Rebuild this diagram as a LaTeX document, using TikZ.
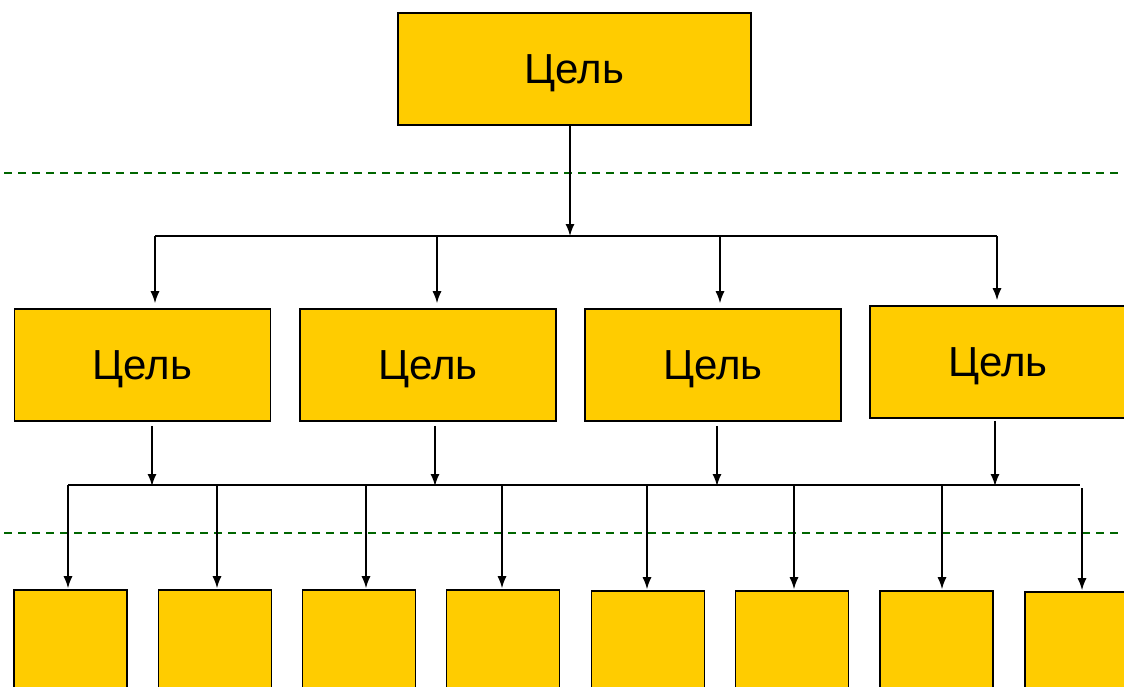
\documentclass[tikz,border=0pt]{standalone}
\usepackage{fontspec}
\setmainfont{Liberation Sans}
\usetikzlibrary{positioning, arrows.meta}
\definecolor{goalyellow}{RGB}{255,204,0}
\definecolor{levelgreen}{RGB}{0,102,0}

\begin{document}
\begin{tikzpicture}[x=1pt,y=-1pt,
    goal/.style={draw,line width=1.6pt,fill=goalyellow,inner sep=0pt,text depth=0pt,font=\fontsize{42}{50}\selectfont},
    bigbox/.style={goal,minimum width=256pt,minimum height=112pt},
    smallbox/.style={goal,minimum width=113pt,minimum height=112pt},
    link/.style={line width=1.4pt,-{Latex[length=12pt,width=9pt]}},
    bus/.style={line width=1.4pt},
    level/.style={levelgreen,line width=1.8pt,dash pattern=on 8pt off 6pt}]
\clip (0,0) rectangle (1124,686);
\fill[white] (0,0) rectangle (1124,686);

% level borders
\draw[level] (4,173) -- (1124,173);
\draw[level] (4,533) -- (1124,533);

% top goal
\node[goal,minimum width=353pt,minimum height=112pt] (top) at (574.5,69) {Цель};

% second level
\node[bigbox] (m1) at (142.5,365) {Цель};
\node[bigbox] (m2) at (428,365) {Цель};
\node[bigbox] (m3) at (713,365) {Цель};
\node[bigbox] (m4) at (998,362) {Цель};

% third level
\node[smallbox] (b1) at (70.5,646) {};
\node[smallbox] (b2) at (215,646) {};
\node[smallbox] (b3) at (359,646) {};
\node[smallbox] (b4) at (503,646) {};
\node[smallbox] (b5) at (648,647) {};
\node[smallbox] (b6) at (792,647) {};
\node[smallbox] (b7) at (936.5,647) {};
\node[smallbox] (b8) at (1081.5,648) {};

% upper bus
\coordinate (hub) at (570,236);
\coordinate (u1) at (155,236);
\coordinate (u2) at (437,236);
\coordinate (u3) at (720,236);
\coordinate (u4) at (997,236);
\draw[link] (hub |- top.south) -- (hub);
\draw[bus] (u1) -- (u4);
\draw[link,shorten >=5pt] (u1) -- (u1 |- m1.north);
\draw[link,shorten >=5pt] (u2) -- (u2 |- m2.north);
\draw[link,shorten >=5pt] (u3) -- (u3 |- m3.north);
\draw[link,shorten >=5pt] (u4) -- (u4 |- m4.north);

% lower bus
\coordinate (l0) at (68,485);
\coordinate (l9) at (1080,485);
\coordinate (h1) at (152,486);
\coordinate (h2) at (435,486);
\coordinate (h3) at (717,486);
\coordinate (h4) at (995,486);
\draw[bus] (l0) -- (l9);
\draw[link] (h1 |- m1.south) ++(0,4) -- (h1);
\draw[link] (h2 |- m2.south) ++(0,4) -- (h2);
\draw[link] (h3 |- m3.south) ++(0,4) -- (h3);
\draw[link] (h4 |- m4.south) ++(0,2) -- (h4);

\coordinate (d1) at (68,485);
\coordinate (d2) at (217,485);
\coordinate (d3) at (366,485);
\coordinate (d4) at (502,485);
\coordinate (d5) at (647,485);
\coordinate (d6) at (794,485);
\coordinate (d7) at (942,485);
\coordinate (d8) at (1082,488);
\draw[link,shorten >=1pt] (d1) -- (d1 |- b1.north);
\draw[link,shorten >=1pt] (d2) -- (d2 |- b2.north);
\draw[link,shorten >=1pt] (d3) -- (d3 |- b3.north);
\draw[link,shorten >=1pt] (d4) -- (d4 |- b4.north);
\draw[link,shorten >=1pt] (d5) -- (d5 |- b5.north);
\draw[link,shorten >=1pt] (d6) -- (d6 |- b6.north);
\draw[link,shorten >=1pt] (d7) -- (d7 |- b7.north);
\draw[link,shorten >=1pt] (d8) -- (d8 |- b8.north);
\end{tikzpicture}
\end{document}
